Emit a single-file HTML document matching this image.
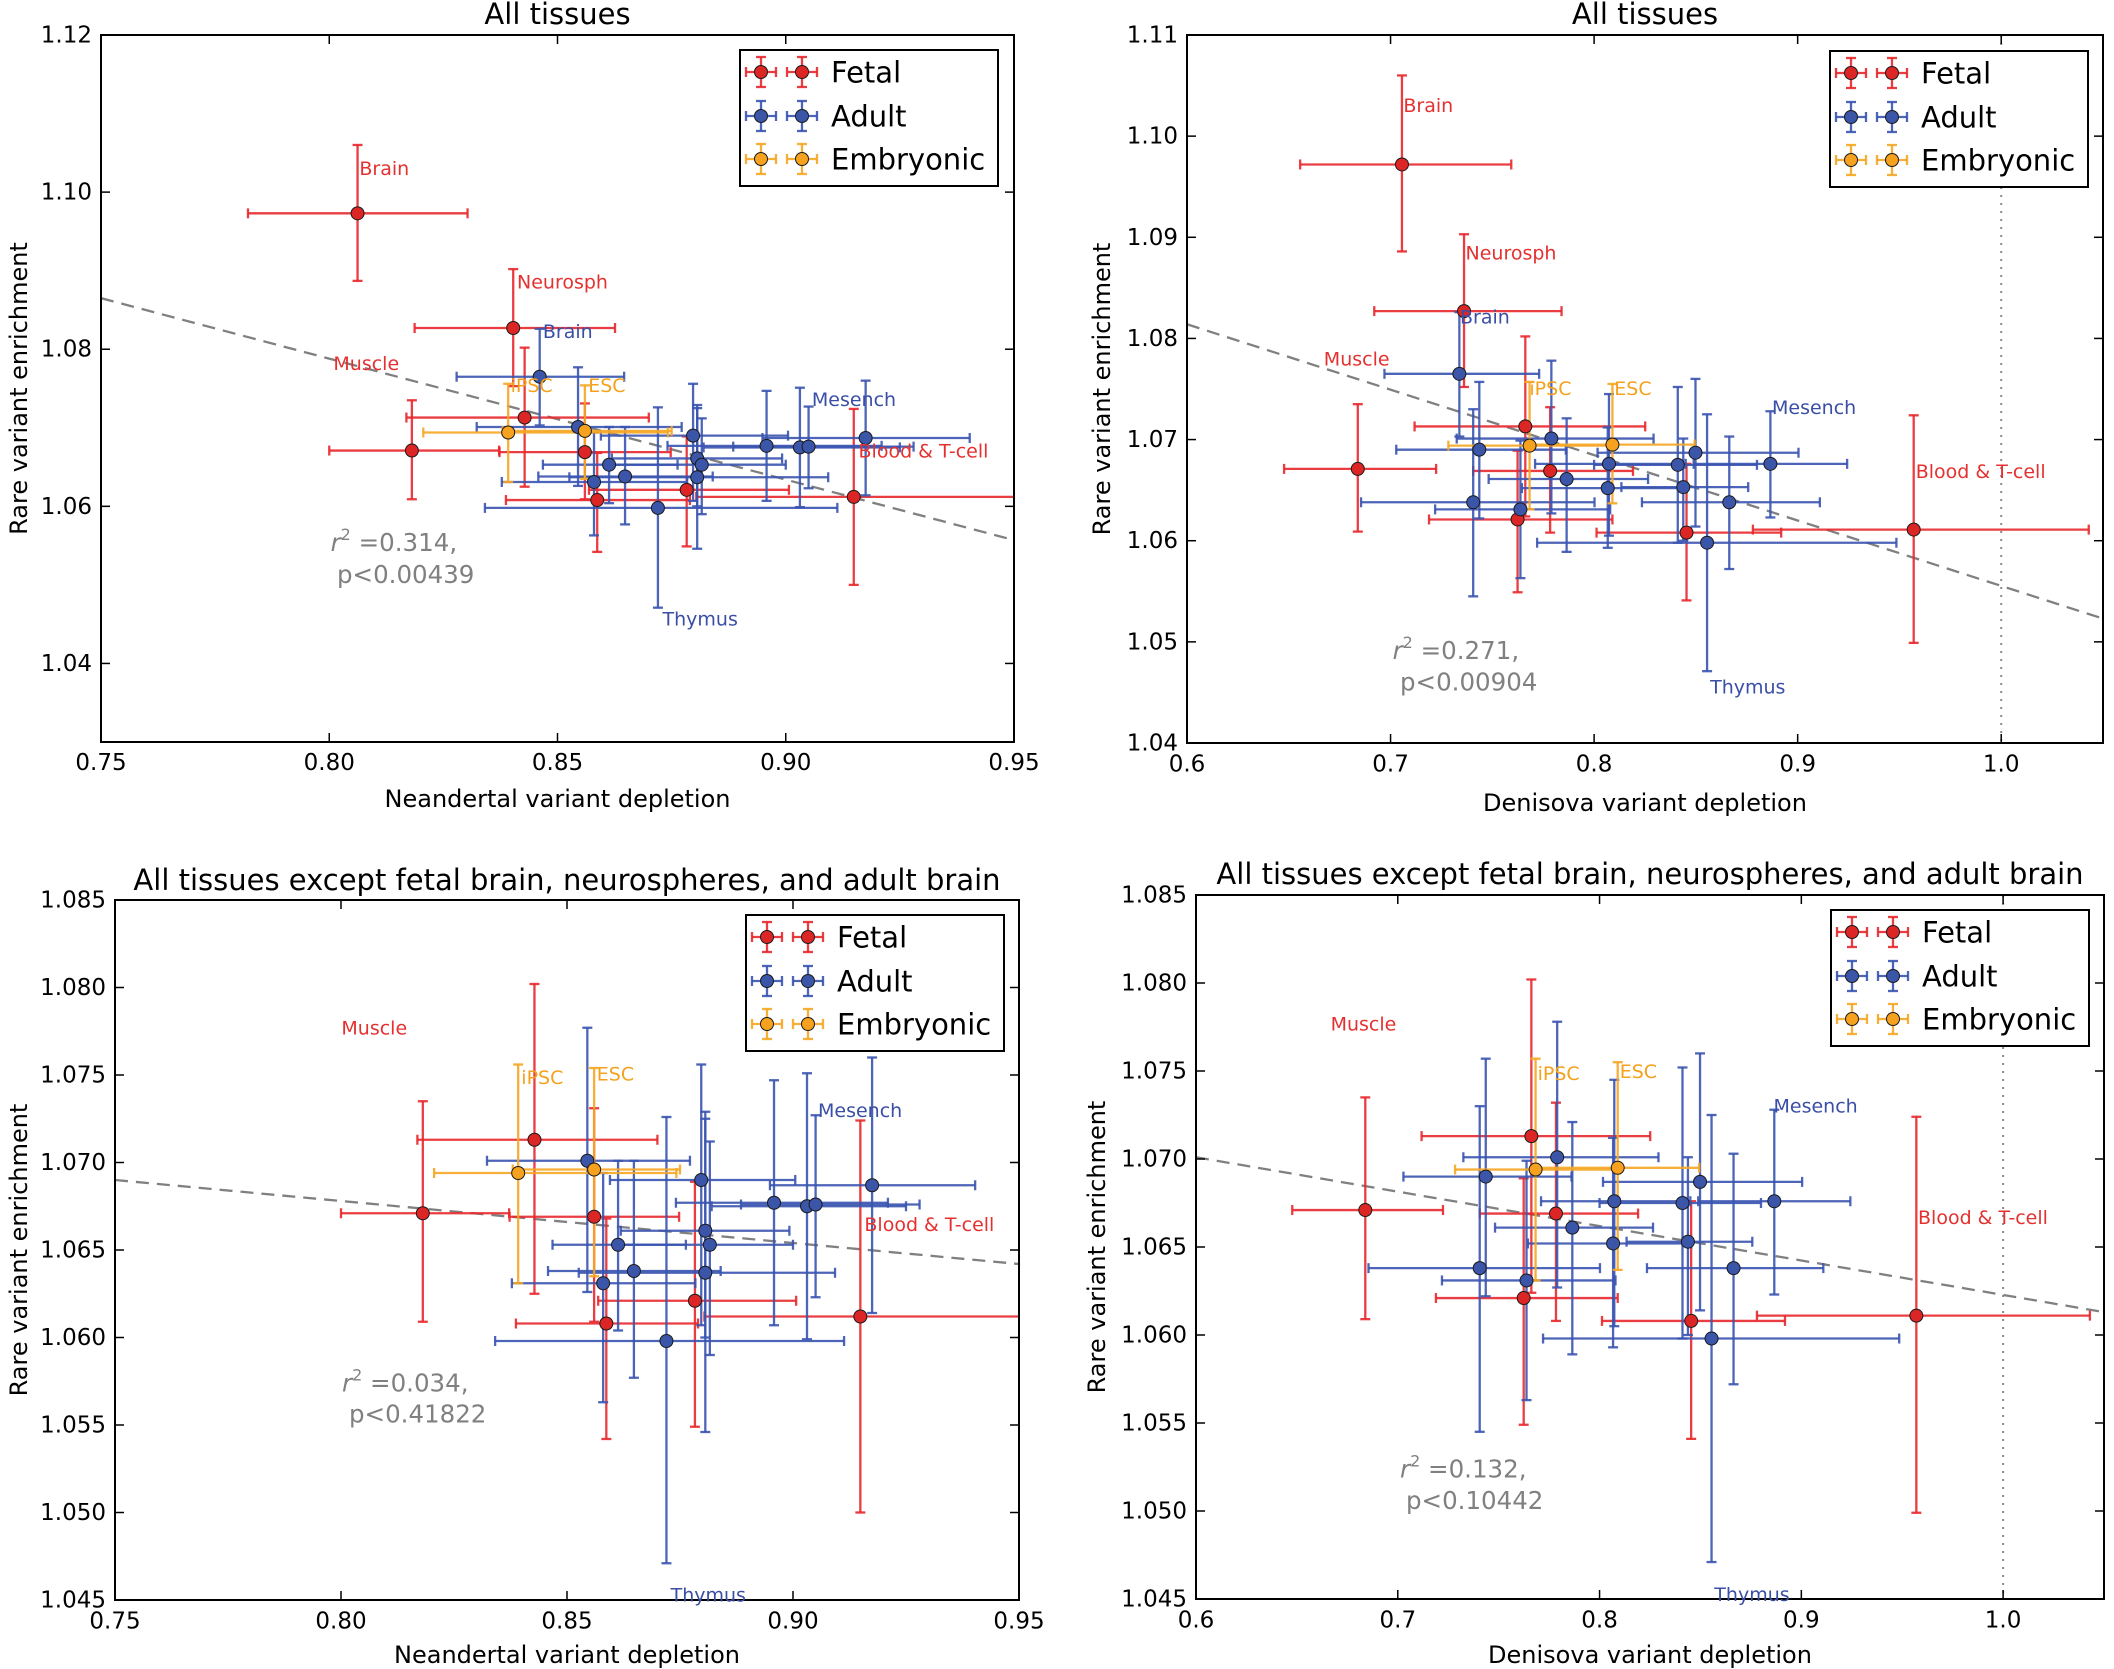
<!DOCTYPE html>
<html><head><meta charset="utf-8">
<style>
html,body{margin:0;padding:0;background:#fff;}
svg{display:block;}
text{font-family:"DejaVu Sans","Liberation Sans",sans-serif;}
</style></head>
<body>
<svg id="s" width="2114" height="1669" viewBox="0 0 2114 1669" xmlns="http://www.w3.org/2000/svg">
<rect width="2114" height="1669" fill="#fff"/>
<defs>
<clipPath id="c0"><rect x="101" y="35" width="913" height="707"/></clipPath>
<clipPath id="c1"><rect x="1187" y="35" width="916" height="708"/></clipPath>
<clipPath id="c2"><rect x="115" y="900" width="904" height="700"/></clipPath>
<clipPath id="c3"><rect x="1196" y="895" width="908" height="704"/></clipPath>
</defs>
<g id="g0" clip-path="url(#c0)"></g>
<g id="g1" clip-path="url(#c1)"></g>
<g id="g2" clip-path="url(#c2)"></g>
<g id="g3" clip-path="url(#c3)"></g>
<g id="axes"></g>

<!-- Titles -->
<g font-size="29" fill="#000" text-anchor="middle">
<text x="557.5" y="24">All tissues</text>
<text x="1645" y="24">All tissues</text>
<text x="567" y="890">All tissues except fetal brain, neurospheres, and adult brain</text>
<text x="1650" y="884">All tissues except fetal brain, neurospheres, and adult brain</text>
</g>

<!-- Axis labels -->
<g font-size="24" fill="#000" text-anchor="middle">
<text x="557.5" y="807">Neandertal variant depletion</text>
<text x="1645" y="811">Denisova variant depletion</text>
<text x="567" y="1663">Neandertal variant depletion</text>
<text x="1650" y="1663">Denisova variant depletion</text>
<text transform="translate(27,388.5) rotate(-90)">Rare variant enrichment</text>
<text transform="translate(1110,389) rotate(-90)">Rare variant enrichment</text>
<text transform="translate(27,1250) rotate(-90)">Rare variant enrichment</text>
<text transform="translate(1105,1247) rotate(-90)">Rare variant enrichment</text>
</g>

<!-- Tick labels -->
<g font-size="23" fill="#000" text-anchor="middle">
<text x="101" y="770">0.75</text><text x="329.25" y="770">0.80</text><text x="557.5" y="770">0.85</text><text x="785.75" y="770">0.90</text><text x="1014" y="770">0.95</text>
<text x="1187" y="771.5">0.6</text><text x="1390.6" y="771.5">0.7</text><text x="1594.1" y="771.5">0.8</text><text x="1797.7" y="771.5">0.9</text><text x="2001.2" y="771.5">1.0</text>
<text x="115" y="1628.5">0.75</text><text x="341" y="1628.5">0.80</text><text x="567" y="1628.5">0.85</text><text x="793" y="1628.5">0.90</text><text x="1019" y="1628.5">0.95</text>
<text x="1196" y="1627.5">0.6</text><text x="1397.8" y="1627.5">0.7</text><text x="1599.6" y="1627.5">0.8</text><text x="1801.3" y="1627.5">0.9</text><text x="2003.1" y="1627.5">1.0</text>
</g>
<g font-size="23" fill="#000" text-anchor="end">
<text x="92" y="670.9">1.04</text><text x="92" y="513.8">1.06</text><text x="92" y="356.7">1.08</text><text x="92" y="199.6">1.10</text><text x="92" y="42.5">1.12</text>
<text x="1178" y="750.5">1.04</text><text x="1178" y="649.4">1.05</text><text x="1178" y="548.2">1.06</text><text x="1178" y="447.1">1.07</text><text x="1178" y="345.9">1.08</text><text x="1178" y="244.8">1.09</text><text x="1178" y="143.6">1.10</text><text x="1178" y="42.5">1.11</text>
<text x="106" y="1607.5">1.045</text><text x="106" y="1520">1.050</text><text x="106" y="1432.5">1.055</text><text x="106" y="1345">1.060</text><text x="106" y="1257.5">1.065</text><text x="106" y="1170">1.070</text><text x="106" y="1082.5">1.075</text><text x="106" y="995">1.080</text><text x="106" y="907.5">1.085</text>
<text x="1187" y="1606.5">1.045</text><text x="1187" y="1518.5">1.050</text><text x="1187" y="1430.5">1.055</text><text x="1187" y="1342.5">1.060</text><text x="1187" y="1254.5">1.065</text><text x="1187" y="1166.5">1.070</text><text x="1187" y="1078.5">1.075</text><text x="1187" y="990.5">1.080</text><text x="1187" y="902.5">1.085</text>
</g>

<!-- Data labels -->
<g font-size="19">
<text x="359.4" y="174.8" fill="#e4312f">Brain</text>
<text x="517" y="288.3" fill="#e4312f">Neurosph</text>
<text x="542.9" y="337.8" fill="#3a4ea5">Brain</text>
<text x="333.4" y="370" fill="#e4312f">Muscle</text>
<text x="510.6" y="392" fill="#f5a11c">iPSC</text>
<text x="588.2" y="392" fill="#f5a11c">ESC</text>
<text x="811.9" y="406.2" fill="#3a4ea5">Mesench</text>
<text x="858.5" y="457.5" fill="#e4312f">Blood &amp; T-cell</text>
<text x="662.5" y="625.7" fill="#3a4ea5">Thymus</text>
<text x="1403.4" y="111.9" fill="#e4312f">Brain</text>
<text x="1465.5" y="259.6" fill="#e4312f">Neurosph</text>
<text x="1460" y="323.3" fill="#3a4ea5">Brain</text>
<text x="1323.8" y="365.7" fill="#e4312f">Muscle</text>
<text x="1529.4" y="395" fill="#f5a11c">iPSC</text>
<text x="1614.3" y="395" fill="#f5a11c">ESC</text>
<text x="1772" y="413.9" fill="#3a4ea5">Mesench</text>
<text x="1915.7" y="478" fill="#e4312f">Blood &amp; T-cell</text>
<text x="1710.1" y="693.4" fill="#3a4ea5">Thymus</text>
<text x="341.4" y="1034.7" fill="#e4312f">Muscle</text>
<text x="521.3" y="1084" fill="#f5a11c">iPSC</text>
<text x="596.8" y="1080.5" fill="#f5a11c">ESC</text>
<text x="818" y="1117" fill="#3a4ea5">Mesench</text>
<text x="864.4" y="1231" fill="#e4312f">Blood &amp; T-cell</text>
<text x="670.6" y="1601.7" fill="#3a4ea5">Thymus</text>
<text x="1330.6" y="1030.5" fill="#e4312f">Muscle</text>
<text x="1537.6" y="1079.8" fill="#f5a11c">iPSC</text>
<text x="1619.7" y="1078" fill="#f5a11c">ESC</text>
<text x="1773.5" y="1112.6" fill="#3a4ea5">Mesench</text>
<text x="1918" y="1224" fill="#e4312f">Blood &amp; T-cell</text>
<text x="1714.3" y="1600.8" fill="#3a4ea5">Thymus</text>
</g>

<!-- r^2 annotations -->
<g font-size="24.5" fill="#808080">
<text x="330.6" y="551"><tspan font-style="italic">r</tspan><tspan font-size="16" dy="-11">2</tspan><tspan dy="11"> =0.314,</tspan></text>
<text x="337" y="583">p&lt;0.00439</text>
<text x="1392.6" y="659.1"><tspan font-style="italic">r</tspan><tspan font-size="16" dy="-11">2</tspan><tspan dy="11"> =0.271,</tspan></text>
<text x="1400" y="690.4">p&lt;0.00904</text>
<text x="342" y="1391.5"><tspan font-style="italic">r</tspan><tspan font-size="16" dy="-11">2</tspan><tspan dy="11"> =0.034,</tspan></text>
<text x="349" y="1422.6">p&lt;0.41822</text>
<text x="1400" y="1477.4"><tspan font-style="italic">r</tspan><tspan font-size="16" dy="-11">2</tspan><tspan dy="11"> =0.132,</tspan></text>
<text x="1406" y="1508.9">p&lt;0.10442</text>
</g>

<g id="legends"></g>
<g font-size="29" fill="#000">
<text x="831" y="82.5">Fetal</text><text x="831" y="126.5">Adult</text><text x="831" y="169.5">Embryonic</text>
<text x="1921" y="83.5">Fetal</text><text x="1921" y="127.5">Adult</text><text x="1921" y="170.5">Embryonic</text>
<text x="837" y="947.5">Fetal</text><text x="837" y="991.5">Adult</text><text x="837" y="1034.5">Embryonic</text>
<text x="1922" y="942.5">Fetal</text><text x="1922" y="986.5">Adult</text><text x="1922" y="1029.5">Embryonic</text>
</g>
</svg>
<script>
(function(){
var NS="http://www.w3.org/2000/svg";
function el(t,a,p){var e=document.createElementNS(NS,t);for(var k in a)e.setAttribute(k,a[k]);p.appendChild(e);return e;}
var COL={r:{f:"#dc2626",b:"#e8282c"},b:{f:"#3b55a8",b:"#3a54b0"},o:{f:"#f6a21e",b:"#f5a623"}};
var N=[
["r",0.8062,1.0973,0.7822,0.8303,1.0887,1.106,1],
["r",0.8403,1.0827,0.8187,0.8626,1.0753,1.0902,1],
["r",0.8181,1.0671,0.800,0.8372,1.0609,1.0735,0],
["r",0.8428,1.0713,0.8169,0.870,1.0625,1.0802,0],
["r",0.856,1.0669,0.8373,0.8748,1.0609,1.0731,0],
["r",0.8587,1.0608,0.8387,0.879,1.0542,1.0668,0],
["r",0.8783,1.0621,0.8569,0.9007,1.0549,1.0689,0],
["r",0.9149,1.0612,0.8804,0.99,1.050,1.0724,0],
["b",0.8461,1.0765,0.8279,0.8646,1.0703,1.0826,1],
["b",0.8545,1.0701,0.8323,0.8772,1.0626,1.0777,0],
["b",0.8797,1.069,0.8595,0.9005,1.0607,1.0756,0],
["b",0.8806,1.0661,0.8619,0.8992,1.060,1.0729,0],
["b",0.8816,1.0653,0.862,0.90,1.0590,1.0712,0],
["b",0.8806,1.0637,0.8526,0.9093,1.0546,1.0725,0],
["b",0.8958,1.0677,0.8741,0.921,1.0607,1.0747,0],
["b",0.9031,1.0675,0.882,0.925,1.0599,1.0751,0],
["b",0.905,1.0676,0.8885,0.928,1.0623,1.0727,0],
["b",0.9175,1.0687,0.8949,0.9403,1.0614,1.076,0],
["b",0.8613,1.0653,0.8468,0.8763,1.0604,1.0701,0],
["b",0.8648,1.0638,0.8458,0.884,1.0577,1.0701,0],
["b",0.858,1.0631,0.8378,0.8784,1.0563,1.0694,0],
["b",0.872,1.0598,0.8341,0.9113,1.0471,1.0726,0],
["o",0.8392,1.0694,0.8206,0.8742,1.0631,1.0756,0],
["o",0.856,1.0696,0.838,0.875,1.0635,1.0754,0]
];
var D=[
["r",0.7056,1.0972,0.6556,0.7593,1.0886,1.106,1],
["r",0.7361,1.0827,0.692,0.784,1.0752,1.0903,1],
["r",0.6839,1.0671,0.6477,0.7224,1.0609,1.0735,0],
["r",0.7662,1.0713,0.7118,0.8251,1.0624,1.0802,0],
["r",0.7784,1.0669,0.7406,0.8191,1.0608,1.0732,0],
["r",0.7624,1.0621,0.7189,0.809,1.0549,1.0689,0],
["r",0.8454,1.0608,0.8012,0.8919,1.0541,1.0676,0],
["r",0.957,1.0611,0.878,1.043,1.0499,1.0724,0],
["b",0.7338,1.0765,0.697,0.773,1.0703,1.0826,1],
["b",0.779,1.0701,0.7325,0.8292,1.0627,1.0778,0],
["b",0.7436,1.069,0.7028,0.7861,1.0622,1.0757,0],
["b",0.8498,1.0687,0.8017,0.9004,1.0614,1.076,0],
["b",0.8073,1.0676,0.771,0.845,1.0605,1.0745,0],
["b",0.8411,1.0675,0.80,0.88,1.0598,1.0752,0],
["b",0.8866,1.0676,0.8489,0.9243,1.0623,1.0728,0],
["b",0.7865,1.0661,0.7482,0.8265,1.0589,1.0721,0],
["b",0.8067,1.0652,0.7645,0.8455,1.0593,1.0712,0],
["b",0.8438,1.0653,0.8134,0.8757,1.060,1.0701,0],
["b",0.7406,1.0638,0.6855,0.8002,1.0545,1.073,0],
["b",0.7638,1.0631,0.7219,0.8079,1.0563,1.0699,0],
["b",0.8664,1.0638,0.8235,0.9109,1.0572,1.0703,0],
["b",0.8555,1.0598,0.772,0.9485,1.0471,1.0725,0],
["o",0.7683,1.0694,0.7284,0.81,1.0631,1.0757,0],
["o",0.809,1.0695,0.769,0.8494,1.0637,1.0755,0]
];
var P=[
{x0:101,x1:1014,y0:35,y1:742,xa:.75,xb:.95,ya:1.03,yb:1.12,xt:[.75,.8,.85,.9,.95],yt:[1.04,1.06,1.08,1.10,1.12],d:N,sub:0,reg:[.75,1.0865,.95,1.0557],dot:0,lg:[740,50]},
{x0:1187,x1:2103,y0:35,y1:743,xa:.6,xb:1.05,ya:1.04,yb:1.11,xt:[.6,.7,.8,.9,1.0],yt:[1.04,1.05,1.06,1.07,1.08,1.09,1.10,1.11],d:D,sub:0,reg:[.6,1.0814,1.05,1.0523],dot:1,lg:[1830,51]},
{x0:115,x1:1019,y0:900,y1:1600,xa:.75,xb:.95,ya:1.045,yb:1.085,xt:[.75,.8,.85,.9,.95],yt:[1.045,1.05,1.055,1.06,1.065,1.07,1.075,1.08,1.085],d:N,sub:1,reg:[.75,1.069,.95,1.0642],dot:0,lg:[746,915]},
{x0:1196,x1:2104,y0:895,y1:1599,xa:.6,xb:1.05,ya:1.045,yb:1.085,xt:[.6,.7,.8,.9,1.0],yt:[1.045,1.05,1.055,1.06,1.065,1.07,1.075,1.08,1.085],d:D,sub:1,reg:[.6,1.0701,1.05,1.0613],dot:1,lg:[1831,910]}
];
var axes=document.getElementById("axes"), legs=document.getElementById("legends");
var CAP=5, R=6.5, LW=2.3;
function marker(g,cx,cy,c,ex,ey){
  var s={stroke:COL[c].b,"stroke-width":LW,"stroke-opacity":0.9,fill:"none"};
  el("line",Object.assign({x1:cx-ex,y1:cy,x2:cx+ex,y2:cy},s),g);
  el("line",Object.assign({x1:cx-ex,y1:cy-CAP,x2:cx-ex,y2:cy+CAP},s),g);
  el("line",Object.assign({x1:cx+ex,y1:cy-CAP,x2:cx+ex,y2:cy+CAP},s),g);
  el("line",Object.assign({x1:cx,y1:cy-ey,x2:cx,y2:cy+ey},s),g);
  el("line",Object.assign({x1:cx-CAP,y1:cy-ey,x2:cx+CAP,y2:cy-ey},s),g);
  el("line",Object.assign({x1:cx-CAP,y1:cy+ey,x2:cx+CAP,y2:cy+ey},s),g);
}
P.forEach(function(p,i){
  var g=document.getElementById("g"+i);
  function X(v){return p.x0+(v-p.xa)/(p.xb-p.xa)*(p.x1-p.x0);}
  function Y(v){return p.y1-(v-p.ya)/(p.yb-p.ya)*(p.y1-p.y0);}
  el("line",{x1:X(p.reg[0]),y1:Y(p.reg[1]),x2:X(p.reg[2]),y2:Y(p.reg[3]),stroke:"#808080","stroke-width":2.3,"stroke-dasharray":"13,8"},g);
  if(p.dot) el("line",{x1:X(1.0),y1:p.y0,x2:X(1.0),y2:p.y1,stroke:"#8a8a8a","stroke-width":2,"stroke-dasharray":"2,6"},g);
  var pts=p.d.filter(function(d){return !(p.sub&&d[7]);});
  pts.forEach(function(d){
    var c=d[0],s={stroke:COL[c].b,"stroke-width":LW,"stroke-opacity":0.9,fill:"none"};
    var cx=X(d[1]),cy=Y(d[2]),xl=X(d[3]),xr=X(d[4]),yl=Y(d[5]),yh=Y(d[6]);
    el("line",Object.assign({x1:xl,y1:cy,x2:xr,y2:cy},s),g);
    el("line",Object.assign({x1:xl,y1:cy-CAP,x2:xl,y2:cy+CAP},s),g);
    el("line",Object.assign({x1:xr,y1:cy-CAP,x2:xr,y2:cy+CAP},s),g);
    el("line",Object.assign({x1:cx,y1:yl,x2:cx,y2:yh},s),g);
    el("line",Object.assign({x1:cx-CAP,y1:yl,x2:cx+CAP,y2:yl},s),g);
    el("line",Object.assign({x1:cx-CAP,y1:yh,x2:cx+CAP,y2:yh},s),g);
  });
  pts.forEach(function(d){
    el("circle",{cx:X(d[1]),cy:Y(d[2]),r:R,fill:COL[d[0]].f,stroke:"#1a1a1a","stroke-width":1},g);
  });
  el("rect",{x:p.x0,y:p.y0,width:p.x1-p.x0,height:p.y1-p.y0,fill:"none",stroke:"#000","stroke-width":2},axes);
  var TL=9;
  p.xt.forEach(function(v){var x=X(v);
    el("line",{x1:x,y1:p.y1,x2:x,y2:p.y1-TL,stroke:"#000","stroke-width":1.5},axes);
    el("line",{x1:x,y1:p.y0,x2:x,y2:p.y0+TL,stroke:"#000","stroke-width":1.5},axes);});
  p.yt.forEach(function(v){var y=Y(v);
    el("line",{x1:p.x0,y1:y,x2:p.x0+TL,y2:y,stroke:"#000","stroke-width":1.5},axes);
    el("line",{x1:p.x1,y1:y,x2:p.x1-TL,y2:y,stroke:"#000","stroke-width":1.5},axes);});
  var lx=p.lg[0],ly=p.lg[1];
  el("rect",{x:lx,y:ly,width:258,height:136,fill:"#fff",stroke:"#000","stroke-width":2},legs);
  var lg=el("g",{},legs);
  [["r",22],["b",66],["o",109]].forEach(function(r){
    [21,62].forEach(function(dx){
      var cx=lx+dx,cy=ly+r[1];
      marker(lg,cx,cy,r[0],15,15);
      el("circle",{cx:cx,cy:cy,r:R,fill:COL[r[0]].f,stroke:"#1a1a1a","stroke-width":1},lg);
    });
  });
});
})();
</script>
</body></html>
